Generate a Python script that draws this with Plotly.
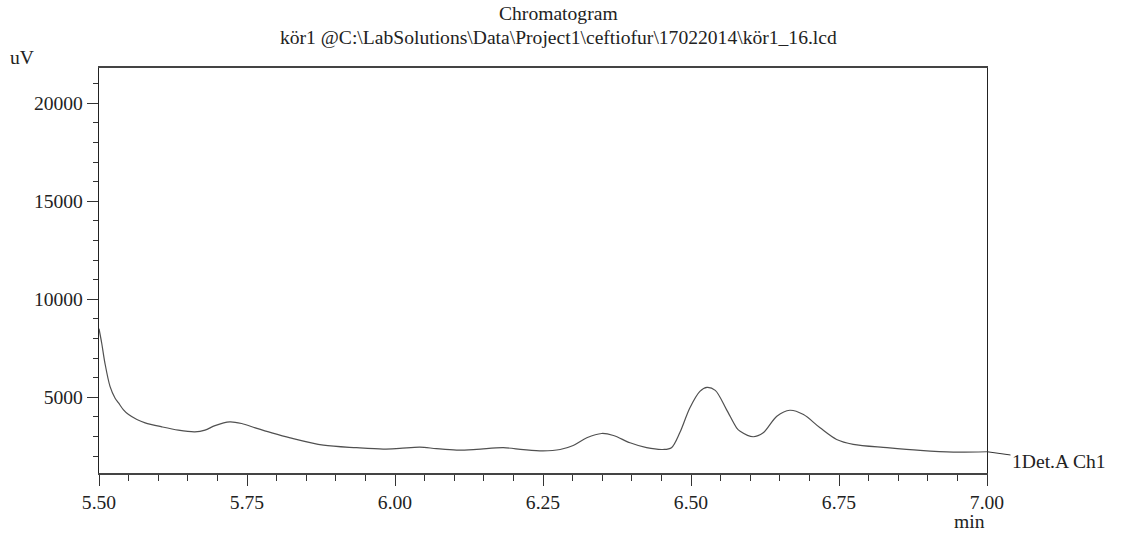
import plotly.graph_objects as go

# Retention time (min) and detector signal (uV)
times = [5.500, 5.5046, 5.510, 5.5186, 5.527, 5.533, 5.541, 5.550, 5.564, 5.578,
         5.606, 5.634, 5.662, 5.679, 5.696, 5.721, 5.741, 5.764, 5.792, 5.823,
         5.879, 5.935, 5.980, 6.008, 6.042, 6.070, 6.104, 6.138, 6.183, 6.217,
         6.250, 6.279, 6.301, 6.324, 6.349, 6.369, 6.397, 6.425, 6.453, 6.467,
         6.481, 6.498, 6.515, 6.527, 6.541, 6.560, 6.577, 6.583, 6.605, 6.622,
         6.645, 6.667, 6.690, 6.718, 6.746, 6.774, 6.831, 6.887, 6.943, 7.000]
signal = [8500, 7760, 6750, 5560, 4970, 4715, 4375, 4120, 3870, 3700,
          3495, 3325, 3240, 3325, 3560, 3750, 3665, 3445, 3190, 2935,
          2560, 2430, 2360, 2395, 2460, 2380, 2310, 2345, 2430, 2330,
          2270, 2340, 2545, 2935, 3155, 3055, 2680, 2430, 2340, 2430,
          3190, 4460, 5305, 5510, 5355, 4375, 3445, 3270, 2990, 3190,
          4035, 4340, 4120, 3445, 2850, 2600, 2430, 2290, 2205, 2225]

x_ticks = [5.50, 5.75, 6.00, 6.25, 6.50, 6.75, 7.00]
y_ticks = [5000, 10000, 15000, 20000]

title_line1 = "Chromatogram"
title_line2 = "kör1 @C:\\LabSolutions\\Data\\Project1\\ceftiofur\\17022014\\kör1_16.lcd"
trace_label = "1Det.A Ch1"

FONT = "Liberation Serif, Times New Roman, serif"
FS = 19.6
TXT = "#222222"

fig = go.Figure()
fig.add_trace(go.Scatter(
    x=times, y=signal, mode="lines",
    line=dict(color="#505050", width=1.2, shape="spline", smoothing=0.9),
    hoverinfo="x+y", showlegend=False,
))

fig.update_layout(
    width=1127, height=535,
    margin=dict(l=99, r=140, t=68, b=62),
    paper_bgcolor="white", plot_bgcolor="white",
    font=dict(family=FONT, size=FS, color=TXT),
    showlegend=False,
)

fig.update_xaxes(
    range=[5.5, 7.0], tickvals=x_ticks, ticktext=[f"{v:.2f}" for v in x_ticks],
    ticks="outside", ticklen=11, tickwidth=1.2, tickcolor="#333333",
    minor=dict(dtick=0.05, tick0=5.5, ticks="outside", ticklen=6, tickwidth=1.2, tickcolor="#333333"),
    showline=True, linecolor="#444444", linewidth=1.8, mirror=True,
    showgrid=False, zeroline=False,
    tickfont=dict(family=FONT, size=FS, color=TXT),
)
fig.update_yaxes(
    range=[1140, 21800], tickvals=y_ticks, ticktext=[str(v) for v in y_ticks],
    ticks="outside", ticklen=11, tickwidth=1.2, tickcolor="#333333",
    minor=dict(dtick=1000, tick0=0, ticks="outside", ticklen=5, tickwidth=1.2, tickcolor="#333333"),
    showline=True, linecolor="#222222", linewidth=1.4, mirror=True,
    showgrid=False, zeroline=False,
    tickfont=dict(family=FONT, size=FS, color=TXT),
)

annots = [
    dict(text=title_line1, xref="paper", yref="paper", x=0.518, y=1.135,
         xanchor="center", yanchor="middle", showarrow=False),
    dict(text=title_line2, xref="paper", yref="paper", x=0.518, y=1.076,
         xanchor="center", yanchor="middle", showarrow=False),
    dict(text="uV", xref="paper", yref="paper", x=-0.0867, y=1.026,
         xanchor="center", yanchor="middle", showarrow=False),
    dict(text="min", xref="paper", yref="paper", x=1.0, y=-0.119,
         xanchor="right", yanchor="middle", showarrow=False),
    dict(text=trace_label, x=times[-1], y=signal[-1], xref="x", yref="y",
         showarrow=True, arrowhead=0, arrowwidth=1, arrowcolor="#333333",
         ax=72, ay=10, xanchor="center", yanchor="middle"),
]
for a in annots:
    a.setdefault("font", dict(family=FONT, size=FS, color=TXT))
fig.update_layout(annotations=annots)

fig.write_html("out.html")
